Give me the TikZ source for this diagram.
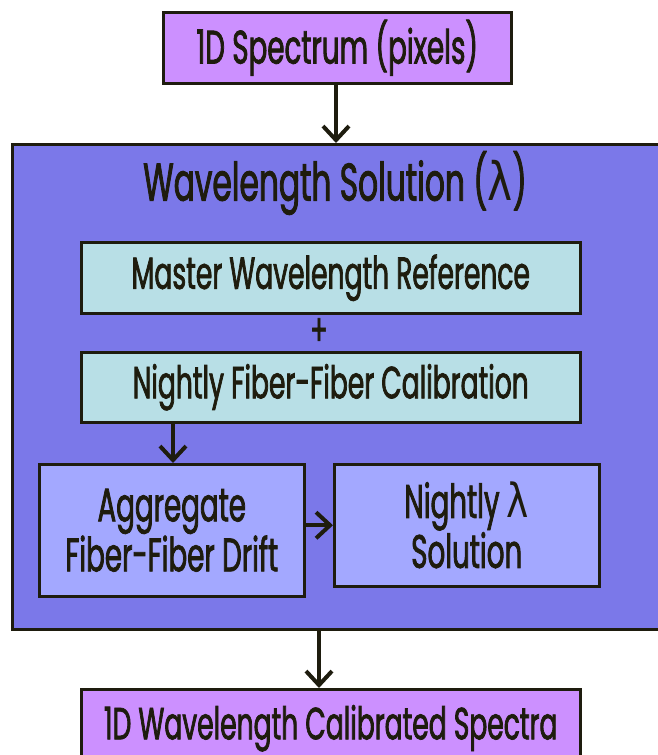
\documentclass[tikz,border=0pt]{standalone}
\usepackage{fontspec}
\setmainfont{Poppins}[FakeStretch=0.59,FakeBold=1.6]
\newfontfamily\grk{DejaVu Sans}[FakeStretch=0.8]
\usetikzlibrary{arrows.meta}
\definecolor{pinkbox}{HTML}{CC90FF}
\definecolor{bigbox}{HTML}{7B78E9}
\definecolor{cyanbox}{HTML}{B8DFE6}
\definecolor{bluebox}{HTML}{A3A8FF}
\definecolor{ink}{HTML}{1E1C0E}
\begin{document}
\begin{tikzpicture}[x=1pt,y=-1pt,
  box/.style={draw=ink,line width=2.5pt,anchor=north west,inner sep=0pt,align=center,text=ink,font=\fontsize{47}{50}\selectfont},
  widebox/.style={box,font=\fontsize{45}{50}\selectfont},
  arr/.style={draw=ink,line width=4pt,-{Straight Barb[length=14pt,width=26pt,line width=4pt]}}]
\useasboundingbox (0,0) rectangle (657,755);
\node[box,fill=pinkbox,minimum width=348pt,minimum height=71pt] (top) at (162,11) {1D Spectrum (pixels)};
\node[box,fill=bigbox,minimum width=660pt,minimum height=485pt] (sol) at (11,143) {};
\node[text=ink,font=\fontsize{53}{55}\selectfont,inner sep=0pt] (title) at (335,183) {Wavelength Solution ({\grk λ})};
\node[widebox,fill=cyanbox,minimum width=499pt,minimum height=71pt] (mwr) at (80,241) {Master Wavelength Reference};
\node[text=ink,font=\fontsize{44}{50}\selectfont,inner sep=0pt] (plus) at (319,332) {+};
\node[widebox,fill=cyanbox,minimum width=499pt,minimum height=70pt] (nfib) at (80,351) {Nightly Fiber-Fiber Calibration};
\node[box,fill=bluebox,minimum width=265pt,minimum height=132pt] (agg) at (38,463) {Aggregate\\Fiber-Fiber Drift};
\node[box,fill=bluebox,minimum width=265pt,minimum height=122pt] (nsol) at (333,463) {Nightly {\grk λ}\\Solution};
\node[widebox,fill=pinkbox,minimum width=499pt,minimum height=78pt] (bot) at (80,688) {1D Wavelength Calibrated Spectra};
\coordinate (c1) at (336,0);
\coordinate (c2) at (173,0);
\coordinate (c3) at (319,0);
\draw[arr] (c1 |- top.south) -- (c1 |- sol.north);
\draw[arr] (c2 |- nfib.south) -- (c2 |- agg.north);
\draw[arr] (agg.east |- nsol.west) -- (nsol.west);
\draw[arr] (c3 |- sol.south) -- (c3 |- bot.north);
\end{tikzpicture}
\end{document}
